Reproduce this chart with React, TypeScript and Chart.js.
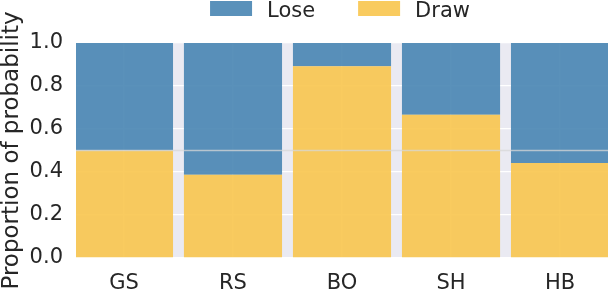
import React, { useEffect, useRef } from 'react';
import { Chart, registerables } from 'chart.js';

Chart.register(...registerables);

const categories = ['GS', 'RS', 'BO', 'SH', 'HB'];
const drawValues = [0.5, 0.387, 0.892, 0.666, 0.442];
const loseValues = [0.5, 0.613, 0.108, 0.334, 0.558];
const yTicks = [0, 0.2, 0.4, 0.6, 0.8, 1.0];
const referenceLine = 0.5;

const FONT_FAMILY = "'DejaVu Sans', sans-serif";
const TEXT = '#262626';
const BLUE = 'rgba(72,133,178,0.9)';
const YELLOW = 'rgba(248,197,78,0.9)';
const PLOT_BG = '#EAEAF2';

const bgPlugin = {
  id: 'plotBg',
  beforeDraw(chart: any) {
    const { ctx, chartArea } = chart;
    ctx.save();
    ctx.fillStyle = PLOT_BG;
    ctx.fillRect(chartArea.left, chartArea.top, chartArea.right - chartArea.left, chartArea.bottom - chartArea.top);
    ctx.restore();
  },
};

const refLinePlugin = {
  id: 'refLine',
  afterDatasetsDraw(chart: any) {
    const { ctx, chartArea, scales } = chart;
    const y = scales.y.getPixelForValue(referenceLine);
    ctx.save();
    ctx.strokeStyle = 'rgba(215,215,215,0.75)';
    ctx.lineWidth = 1.5;
    ctx.beginPath();
    ctx.moveTo(chartArea.left, y);
    ctx.lineTo(chartArea.right, y);
    ctx.stroke();
    ctx.restore();
  },
};

const legendPlugin = {
  id: 'customLegend',
  afterDraw(chart: any) {
    const { ctx, chartArea } = chart;
    const items = [...chart.data.datasets].reverse();
    const boxW = 42;
    const boxH = 15;
    const textGap = 15;
    const itemGap = 43;
    ctx.save();
    ctx.font = `21px ${FONT_FAMILY}`;
    const widths = items.map((d: any) => boxW + textGap + ctx.measureText(d.label).width);
    const total = widths.reduce((a: number, b: number) => a + b, 0) + itemGap * (items.length - 1);
    let x = (chartArea.left + chartArea.right) / 2 - total / 2 - 2;
    const top = 1;
    items.forEach((d: any, i: number) => {
      ctx.fillStyle = d.backgroundColor;
      ctx.fillRect(x, top, boxW, boxH);
      ctx.fillStyle = TEXT;
      ctx.textBaseline = 'alphabetic';
      ctx.textAlign = 'left';
      ctx.fillText(d.label, x + boxW + textGap, top + boxH + 0.5);
      x += widths[i] + itemGap;
    });
    ctx.restore();
  },
};

export default function App() {
  const canvasRef = useRef<HTMLCanvasElement | null>(null);

  useEffect(() => {
    document.body.style.margin = '0';
    const canvas = canvasRef.current;
    if (!canvas) return;
    const font = { family: FONT_FAMILY, size: 21 };
    const chart = new Chart(canvas, {
      type: 'bar',
      data: {
        datasets: [
          {
            label: 'Draw',
            data: drawValues.map((v, i) => ({ x: i, y: v })),
            backgroundColor: YELLOW,
            borderWidth: 0,
            categoryPercentage: 0.9,
            barPercentage: 1,
          },
          {
            label: 'Lose',
            data: loseValues.map((v, i) => ({ x: i, y: v })),
            backgroundColor: BLUE,
            borderWidth: 0,
            categoryPercentage: 0.9,
            barPercentage: 1,
          },
        ],
      },
      options: {
        responsive: false,
        animation: false,
        devicePixelRatio: 1,
        layout: { padding: { top: 43, right: 2, left: 0, bottom: 0 } },
        plugins: {
          legend: { display: false },
          tooltip: { enabled: false },
        },
        scales: {
          x: {
            type: 'linear',
            min: -0.44,
            max: 4.44,
            offset: false,
            stacked: true,
            afterBuildTicks: (s: any) => {
              s.ticks = categories.map((_, i) => ({ value: i }));
            },
            afterFit: (s: any) => {
              s.height = 34;
            },
            grid: { color: '#ffffff', lineWidth: 1.3, drawTicks: false, offset: false },
            border: { display: false },
            ticks: {
              callback: (v: any) => categories[Math.round(Number(v))] ?? '',
              font,
              color: TEXT,
              padding: 13,
              autoSkip: false,
              maxRotation: 0,
            },
          },
          y: {
            min: 0,
            max: 1,
            stacked: true,
            afterBuildTicks: (s: any) => {
              s.ticks = yTicks.map((v) => ({ value: v }));
            },
            afterFit: (s: any) => {
              s.width = 76;
            },
            grid: { color: '#ffffff', lineWidth: 1.3, drawTicks: false },
            border: { display: false },
            ticks: {
              callback: (v: any) => Number(v).toFixed(1),
              font,
              color: TEXT,
              padding: 13,
            },
            title: {
              display: true,
              text: 'Proportion of probability',
              font: { family: FONT_FAMILY, size: 23, lineHeight: 1.04 },
              color: TEXT,
              padding: 0,
            },
          },
        },
      },
      plugins: [bgPlugin, refLinePlugin, legendPlugin],
    } as any);
    return () => chart.destroy();
  }, []);

  return (
    <div style={{ width: 610, height: 292 }}>
      <canvas ref={canvasRef} width={610} height={292} style={{ display: 'block' }} />
    </div>
  );
}
